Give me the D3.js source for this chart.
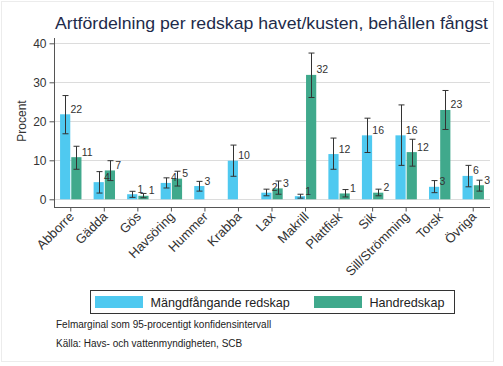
<!DOCTYPE html>
<html>
<head>
<meta charset="utf-8">
<script src="https://cdn.jsdelivr.net/npm/d3@7"></script>
<style>
  html, body { margin: 0; padding: 0; background: #fff; }
  svg { display: block; font-family: "Liberation Sans", Arial, sans-serif; }
</style>
</head>
<body>
<svg id="chart" width="503" height="366"></svg>
<script>
const categories = ["Abborre","Gädda","Gös","Havsöring","Hummer","Krabba","Lax","Makrill","Plattfisk","Sik","Sill/Strömming","Torsk","Övriga"];
const seriesNames = ["Mängdfångande redskap","Handredskap"];
const mangdValues = [21.8, 4.4, 1.3, 4.2, 3.4, 9.9, 1.7, 0.8, 11.6, 16.4, 16.4, 3.2, 6.0];
const mangdLow    = [16.8, 1.6, 0.5, 2.9, 2.1, 5.9, 0.9, 0.3, 7.7, 12.0, 8.7, 1.7, 3.2];
const mangdHigh   = [26.6, 7.1, 2.05, 5.5, 4.6, 13.9, 2.6, 1.3, 15.7, 20.8, 24.2, 4.8, 8.7];
const mangdLabels = ["22","4","1","4","3","10","2","1","12","16","16","3","6"];
const handValues  = [10.8, 7.4, 0.9, 5.3, null, null, 2.8, 31.9, 1.5, 1.7, 12.1, 22.9, 3.6];
const handLow     = [7.7, 4.8, 0.4, 3.4, null, null, 1.3, 26.1, 0.6, 0.9, 8.5, 17.9, 2.1];
const handHigh    = [13.6, 9.9, 1.5, 7.2, null, null, 4.7, 37.5, 2.5, 2.6, 15.4, 27.9, 4.9];
const handLabels  = ["11","7","1","5",null,null,"3","32","1","2","12","23","3"];
const yTicks = [0, 10, 20, 30, 40];
const titleText = "Artfördelning per redskap havet/kusten, behållen fångst";
const yTitle = "Procent";
const notes = ["Felmarginal som 95-procentigt konfidensintervall", "Källa: Havs- och vattenmyndigheten, SCB"];

const colors = ["#4fc9f0", "#40a98c"];
const svg = d3.select("#chart");

const plot = { left: 54, right: 490, top: 38, axisY: 207 };
const x = d3.scaleBand().domain(categories).range([plot.left, plot.right]).padding(0);
const y = d3.scaleLinear().domain([0, 40]).range([199.3, 43.3]);

// faint outer frame
svg.append("rect").attr("x", 1.5).attr("y", 1.5).attr("width", 492).attr("height", 360)
  .attr("fill", "none").attr("stroke", "#ececec").attr("stroke-width", 1);

// title
svg.append("text").attr("x", 55).attr("y", 28.5).attr("font-size", 17.4).attr("fill", "#1e2b4a")
  .attr("textLength", 433).attr("lengthAdjust", "spacingAndGlyphs")
  .text(titleText);

// gridlines
svg.append("g").selectAll("line").data(yTicks).join("line")
  .attr("x1", plot.left).attr("x2", plot.right)
  .attr("y1", d => Math.round(y(d)) + 0.5).attr("y2", d => Math.round(y(d)) + 0.5)
  .attr("stroke", "#dcdcdc").attr("stroke-width", 1);

// y axis
const yAxis = d3.axisLeft(y).tickValues(yTicks).tickSize(5).tickPadding(3);
const gy = svg.append("g").attr("transform", `translate(${plot.left + 0.5},0)`).call(yAxis);
gy.select(".domain").remove();
gy.append("line").attr("x1", 0).attr("x2", 0).attr("y1", plot.top).attr("y2", plot.axisY)
  .attr("stroke", "#555");
gy.selectAll(".tick line").attr("stroke", "#555");
gy.selectAll(".tick text").attr("font-size", 12).attr("fill", "#333")
  .attr("font-family", "Liberation Sans, Arial, sans-serif");

// y title
svg.append("text").attr("transform", "translate(26,121) rotate(-90)")
  .attr("text-anchor", "middle").attr("font-size", 12).attr("fill", "#333").text(yTitle);

// x axis
const xAxis = d3.axisBottom(x).tickSize(4).tickSizeOuter(0);
const gx = svg.append("g").attr("transform", `translate(0,${plot.axisY + 0.5})`).call(xAxis);
gx.select(".domain").attr("stroke", "#555").attr("d", `M${plot.left},0H${plot.right}`);
gx.selectAll(".tick line").attr("stroke", "#555");
gx.selectAll(".tick text")
  .attr("font-size", 13).attr("fill", "#333")
  .attr("font-family", "Liberation Sans, Arial, sans-serif")
  .attr("text-anchor", "end")
  .attr("dy", null).attr("y", 0).attr("x", 0)
  .attr("transform", "translate(4,10) rotate(-45)");

// bars
const bw = 10.2;
const series = [
  { vals: mangdValues, lo: mangdLow, hi: mangdHigh, labels: mangdLabels, off: -bw - 0.5, color: colors[0] },
  { vals: handValues, lo: handLow, hi: handHigh, labels: handLabels, off: 0.5, color: colors[1] }
];
const cx = c => x(c) + x.bandwidth() / 2;

series.forEach(s => {
  const data = categories.map((c, i) => ({ c, v: s.vals[i], lo: s.lo[i], hi: s.hi[i], lab: s.labels[i] }))
    .filter(d => d.v != null);
  svg.append("g").selectAll("rect").data(data).join("rect")
    .attr("x", d => cx(d.c) + s.off).attr("width", bw)
    .attr("y", d => y(d.v)).attr("height", d => y(0) - y(d.v))
    .attr("fill", s.color);
  s.data = data;
});

series.forEach(s => {
  const g = svg.append("g").attr("stroke", "#333").attr("stroke-width", 1);
  s.data.forEach(d => {
    const xm = Math.round(cx(d.c) + s.off + bw / 2) + 0.5;
    g.append("line").attr("x1", xm).attr("x2", xm).attr("y1", y(d.hi)).attr("y2", y(d.lo));
    g.append("line").attr("x1", xm - 3).attr("x2", xm + 3).attr("y1", y(d.hi)).attr("y2", y(d.hi));
    g.append("line").attr("x1", xm - 3).attr("x2", xm + 3).attr("y1", y(d.lo)).attr("y2", y(d.lo));
  });
});

series.forEach(s => {
  svg.append("g").selectAll("text").data(s.data).join("text")
    .attr("x", d => cx(d.c) + s.off + bw + 0.2)
    .attr("y", d => y(d.v) - 1.5)
    .attr("font-size", 10.5).attr("fill", "#333")
    .text(d => d.lab);
});

// legend
const lg = svg.append("g");
lg.append("rect").attr("x", 90.5).attr("y", 290.5).attr("width", 364).attr("height", 23)
  .attr("fill", "#fff").attr("stroke", "#333");
const legendItems = [{ name: seriesNames[0], sx: 95, tx: 150.5 }, { name: seriesNames[1], sx: 314, tx: 369.5 }];
legendItems.forEach((it, i) => {
  lg.append("rect").attr("x", it.sx).attr("y", 296).attr("width", 48).attr("height", 12).attr("fill", colors[i]);
  lg.append("text").attr("x", it.tx).attr("y", 306.5).attr("font-size", 12.6).attr("fill", "#222").text(it.name);
});

// notes
svg.append("g").selectAll("text").data(notes).join("text")
  .attr("x", 56).attr("y", (d, i) => 327.5 + i * 19.5)
  .attr("font-size", 10).attr("fill", "#222").text(d => d);
</script>
</body>
</html>
